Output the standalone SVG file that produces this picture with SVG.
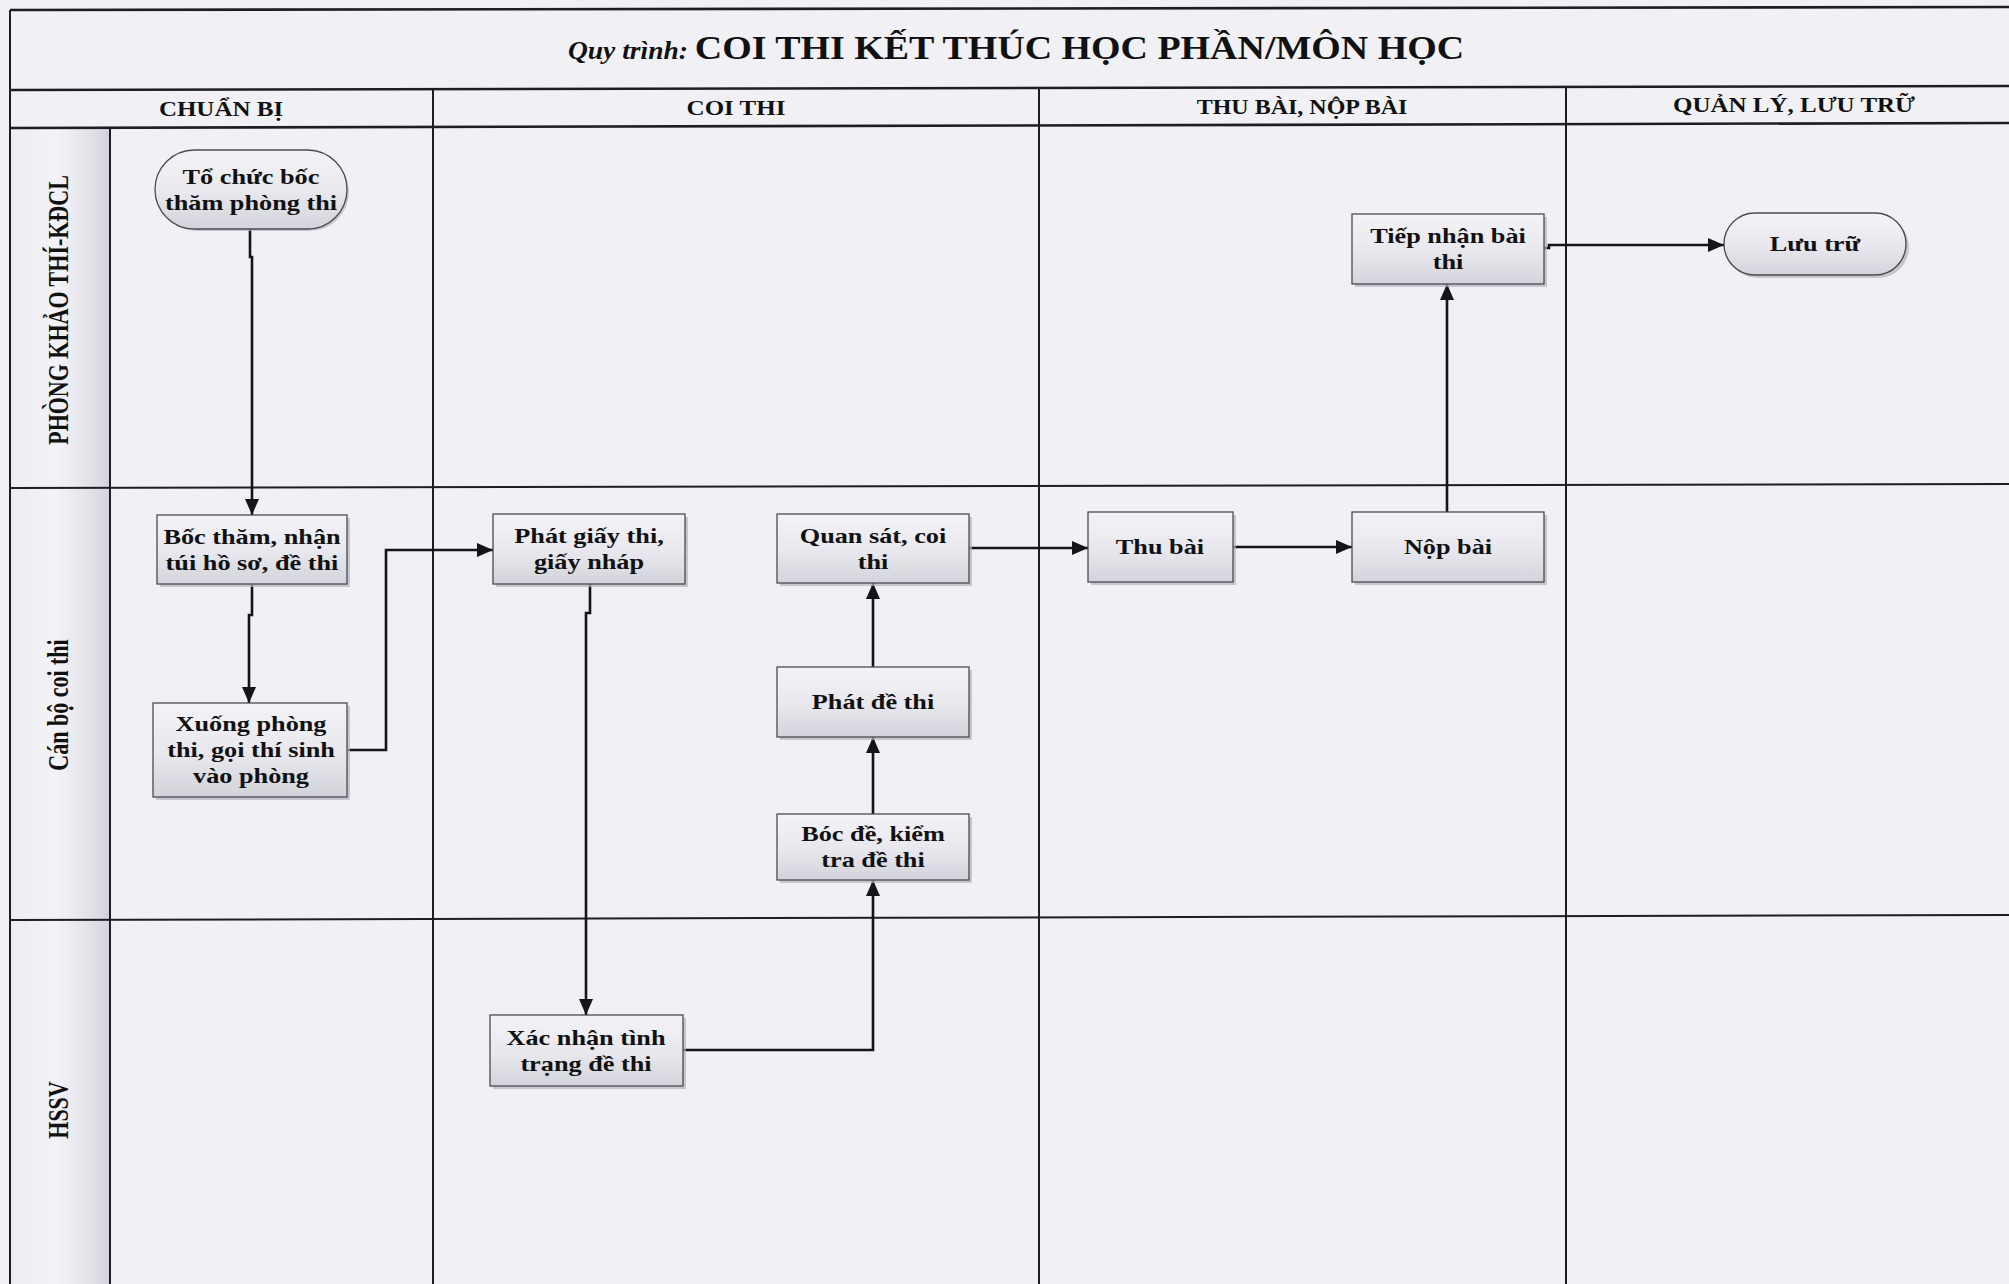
<svg xmlns="http://www.w3.org/2000/svg" width="2009" height="1284" viewBox="0 0 2009 1284">
<style>
.grid{stroke:#1e1e22;stroke-width:2;fill:none}
.gridb{stroke:#1e1e22;stroke-width:2.6;fill:none}
.box{fill:url(#boxg);stroke:#4a4a50;stroke-width:1.3}
.shadow{fill:#b4b4bc;opacity:.7}
.t{font-family:"Liberation Serif","Times New Roman",serif;font-weight:bold;font-size:21px;fill:#111;text-anchor:middle}
.hdr{font-family:"Liberation Serif","Times New Roman",serif;font-weight:bold;font-size:20px;fill:#111;text-anchor:middle}
.lane{font-family:"Liberation Serif","Times New Roman",serif;font-weight:bold;font-size:22px;fill:#111;text-anchor:middle}
.title{font-family:"Liberation Serif","Times New Roman",serif;font-weight:bold;fill:#111;text-anchor:middle}
.conn{stroke:#151518;stroke-width:2.6;fill:none}
</style>
<defs>
<linearGradient id="boxg" x1="0" y1="0" x2="0" y2="1">
<stop offset="0" stop-color="#f3f3f7"/>
<stop offset="0.55" stop-color="#e7e7ed"/>
<stop offset="1" stop-color="#d3d3db"/>
</linearGradient>
<linearGradient id="laneg" x1="0" y1="0" x2="1" y2="0">
<stop offset="0" stop-color="#ececf1"/>
<stop offset="0.45" stop-color="#f3f3f7"/>
<stop offset="0.8" stop-color="#e2e2e9"/>
<stop offset="1" stop-color="#d2d2da"/>
</linearGradient>
<marker id="arr" markerUnits="userSpaceOnUse" markerWidth="17" markerHeight="14" refX="16" refY="7" orient="auto">
<path d="M0,0 L16,7 L0,14 z" fill="#151518"/>
</marker>
</defs>
<rect x="0" y="0" width="2009" height="1284" fill="#f1f1f5"/>

<g id="grid">
<rect x="10" y="128" width="100" height="1156" fill="url(#laneg)"/>
<line class="gridb" x1="10" y1="10" x2="2009" y2="7"/>
<line class="grid" x1="10" y1="10" x2="10" y2="1284"/>
<line class="gridb" x1="10" y1="90" x2="2009" y2="86"/>
<line class="gridb" x1="10" y1="128" x2="2009" y2="123"/>
<line class="grid" x1="110" y1="128" x2="110" y2="1284"/>
<line class="grid" x1="433" y1="90" x2="433" y2="1284"/>
<line class="grid" x1="1039" y1="89" x2="1039" y2="1284"/>
<line class="grid" x1="1566" y1="87" x2="1566" y2="1284"/>
<line class="grid" x1="10" y1="488" x2="2009" y2="484"/>
<line class="grid" x1="10" y1="920" x2="2009" y2="915"/>
</g>

<g id="title">
<text class="title" transform="translate(1016,59) scale(1.1,1)" x="0" y="0"><tspan font-style="italic" font-size="25">Quy trình: </tspan><tspan font-size="34.5">COI THI KẾT THÚC HỌC PHẦN/MÔN HỌC</tspan></text>
</g>

<g id="headers">
<text class="hdr" transform="translate(221,116) scale(1.25,1)">CHUẨN BỊ</text>
<text class="hdr" transform="translate(736,115) scale(1.25,1)">COI THI</text>
<text class="hdr" transform="translate(1302,114) scale(1.2,1)">THU BÀI, NỘP BÀI</text>
<text class="hdr" transform="translate(1794,112) scale(1.25,1)">QUẢN LÝ, LƯU TRỮ</text>
</g>

<g id="lanes">
<text class="lane" transform="translate(59,310) rotate(-90) scale(1,1.3)" x="0" y="7">PHÒNG KHẢO THÍ-KĐCL</text>
<text class="lane" transform="translate(59,705) rotate(-90) scale(1,1.3)" x="0" y="7">Cán bộ coi thi</text>
<text class="lane" transform="translate(59,1110) rotate(-90) scale(1,1.3)" x="0" y="7">HSSV</text>
</g>

<g id="connectors">
<path class="conn" d="M250,229 V257 H252 V515" marker-end="url(#arr)"/>
<path class="conn" d="M252,585 V615 H249 V703" marker-end="url(#arr)"/>
<path class="conn" d="M348,750 H386 V550 H493" marker-end="url(#arr)"/>
<path class="conn" d="M590,584 V613 H586 V1015" marker-end="url(#arr)"/>
<path class="conn" d="M683,1050 H873 V880" marker-end="url(#arr)"/>
<path class="conn" d="M873,814 V737" marker-end="url(#arr)"/>
<path class="conn" d="M873,667 V583" marker-end="url(#arr)"/>
<path class="conn" d="M969,548 H1088" marker-end="url(#arr)"/>
<path class="conn" d="M1233,547 H1352" marker-end="url(#arr)"/>
<path class="conn" d="M1447,512 V284" marker-end="url(#arr)"/>
<path class="conn" d="M1544,248 H1549 V245 H1724" marker-end="url(#arr)"/>
</g>

<g id="n1">
<rect class="shadow" x="157" y="152" width="192" height="79" rx="39.5"/>
<rect class="box" x="155" y="150" width="192" height="79" rx="39.5"/>
<text class="t" transform="translate(251,0) scale(1.25,1)"><tspan x="0" y="184">Tổ chức bốc</tspan><tspan x="0" y="210">thăm phòng thi</tspan></text>
</g>
<g id="n2">
<rect class="shadow" x="160" y="518" width="190" height="69"/>
<rect class="box" x="157" y="515" width="190" height="69"/>
<text class="t" transform="translate(252,0) scale(1.25,1)"><tspan x="0" y="544">Bốc thăm, nhận</tspan><tspan x="0" y="570">túi hồ sơ, đề thi</tspan></text>
</g>
<g id="n3">
<rect class="shadow" x="156" y="706" width="194" height="94"/>
<rect class="box" x="153" y="703" width="194" height="94"/>
<text class="t" transform="translate(251,0) scale(1.25,1)"><tspan x="0" y="731">Xuống phòng</tspan><tspan x="0" y="757">thi, gọi thí sinh</tspan><tspan x="0" y="783">vào phòng</tspan></text>
</g>
<g id="n4">
<rect class="shadow" x="496" y="517" width="192" height="70"/>
<rect class="box" x="493" y="514" width="192" height="70"/>
<text class="t" transform="translate(589,0) scale(1.25,1)"><tspan x="0" y="543">Phát giấy thi,</tspan><tspan x="0" y="569">giấy nháp</tspan></text>
</g>
<g id="n5">
<rect class="shadow" x="780" y="517" width="192" height="69"/>
<rect class="box" x="777" y="514" width="192" height="69"/>
<text class="t" transform="translate(873,0) scale(1.25,1)"><tspan x="0" y="543">Quan sát, coi</tspan><tspan x="0" y="569">thi</tspan></text>
</g>
<g id="n6">
<rect class="shadow" x="780" y="670" width="192" height="70"/>
<rect class="box" x="777" y="667" width="192" height="70"/>
<text class="t" transform="translate(873,0) scale(1.25,1)"><tspan x="0" y="709">Phát đề thi</tspan></text>
</g>
<g id="n7">
<rect class="shadow" x="780" y="817" width="192" height="66"/>
<rect class="box" x="777" y="814" width="192" height="66"/>
<text class="t" transform="translate(873,0) scale(1.25,1)"><tspan x="0" y="841">Bóc đề, kiểm</tspan><tspan x="0" y="867">tra đề thi</tspan></text>
</g>
<g id="n8">
<rect class="shadow" x="493" y="1018" width="193" height="71"/>
<rect class="box" x="490" y="1015" width="193" height="71"/>
<text class="t" transform="translate(586,0) scale(1.25,1)"><tspan x="0" y="1045">Xác nhận tình</tspan><tspan x="0" y="1071">trạng đề thi</tspan></text>
</g>
<g id="n9">
<rect class="shadow" x="1091" y="515" width="145" height="70"/>
<rect class="box" x="1088" y="512" width="145" height="70"/>
<text class="t" transform="translate(1160,0) scale(1.25,1)"><tspan x="0" y="554">Thu bài</tspan></text>
</g>
<g id="n10">
<rect class="shadow" x="1355" y="515" width="192" height="70"/>
<rect class="box" x="1352" y="512" width="192" height="70"/>
<text class="t" transform="translate(1448,0) scale(1.25,1)"><tspan x="0" y="554">Nộp bài</tspan></text>
</g>
<g id="n11">
<rect class="shadow" x="1355" y="217" width="192" height="70"/>
<rect class="box" x="1352" y="214" width="192" height="70"/>
<text class="t" transform="translate(1448,0) scale(1.25,1)"><tspan x="0" y="243">Tiếp nhận bài</tspan><tspan x="0" y="269">thi</tspan></text>
</g>
<g id="n12">
<rect class="shadow" x="1727" y="216" width="182" height="62" rx="31"/>
<rect class="box" x="1724" y="213" width="182" height="62" rx="31"/>
<text class="t" transform="translate(1815,0) scale(1.25,1)"><tspan x="0" y="251">Lưu trữ</tspan></text>
</g>
</svg>
